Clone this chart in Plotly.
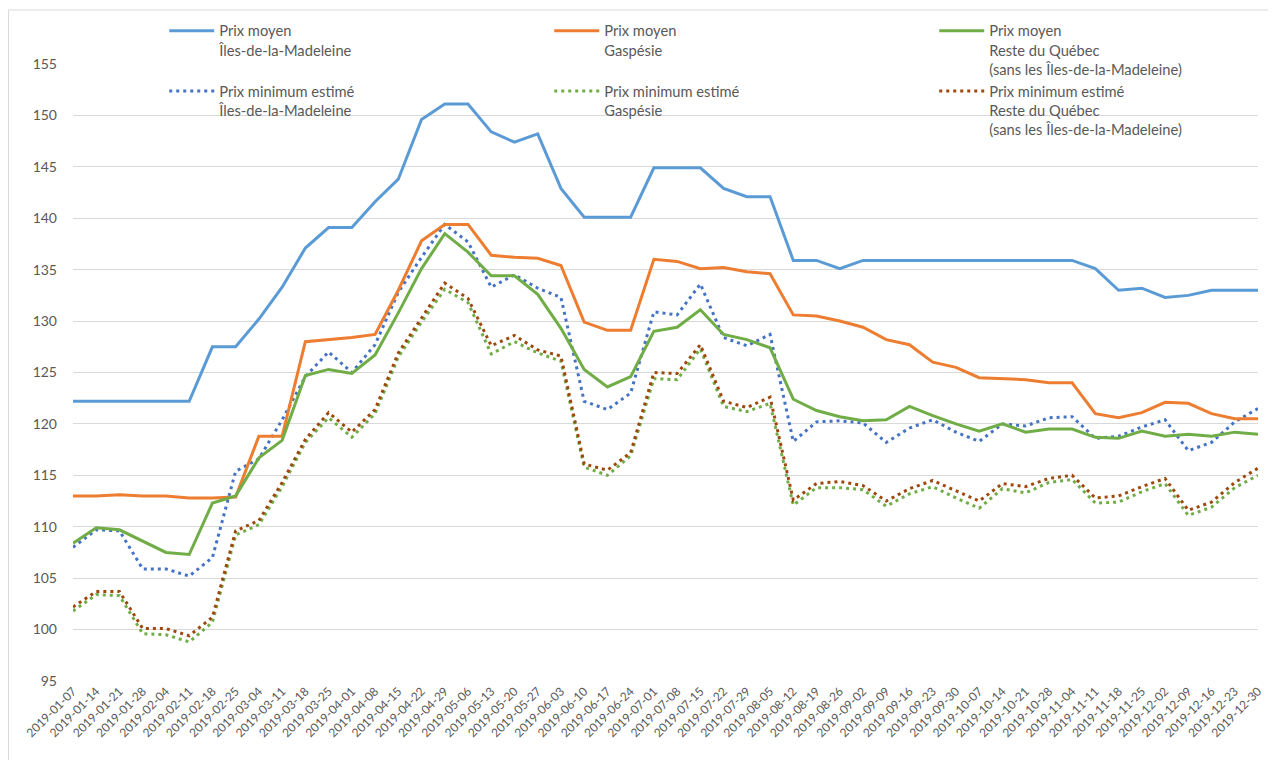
import plotly.graph_objects as go
import pandas as pd

dates = [d.strftime("%Y-%m-%d") for d in pd.date_range("2019-01-07", "2019-12-30", freq="7D")]

moy_madeleine = [122.2, 122.2, 122.2, 122.2, 122.2, 122.2, 127.5, 127.5, 130.2, 133.3,
                 137.1, 139.1, 139.1, 141.6, 143.8, 149.6, 151.1, 151.1, 148.4, 147.4,
                 148.2, 142.9, 140.1, 140.1, 140.1, 144.9, 144.9, 144.9, 142.9, 142.1,
                 142.1, 135.9, 135.9, 135.1, 135.9, 135.9, 135.9, 135.9, 135.9, 135.9,
                 135.9, 135.9, 135.9, 135.9, 135.1, 133.0, 133.2, 132.3, 132.5, 133.0,
                 133.0, 133.0]
moy_gaspesie = [113.0, 113.0, 113.1, 113.0, 113.0, 112.8, 112.8, 112.9, 118.8, 118.8,
                128.0, 128.2, 128.4, 128.7, 133.0, 137.8, 139.4, 139.4, 136.4, 136.2,
                136.1, 135.4, 129.9, 129.1, 129.1, 136.0, 135.8, 135.1, 135.2, 134.8,
                134.6, 130.6, 130.5, 130.0, 129.4, 128.2, 127.7, 126.0, 125.5, 124.5,
                124.4, 124.3, 124.0, 124.0, 121.0, 120.6, 121.1, 122.1, 122.0, 121.0,
                120.5, 120.5]
moy_reste = [108.4, 109.9, 109.7, 108.6, 107.5, 107.3, 112.3, 113.0, 116.7, 118.4,
             124.7, 125.3, 124.9, 126.7, 130.8, 135.1, 138.5, 136.7, 134.4, 134.4,
             132.6, 129.3, 125.3, 123.6, 124.6, 129.0, 129.4, 131.1, 128.7, 128.2,
             127.4, 122.4, 121.3, 120.7, 120.3, 120.4, 121.7, 120.8, 120.0, 119.3,
             120.0, 119.2, 119.5, 119.5, 118.7, 118.6, 119.3, 118.8, 119.0, 118.8,
             119.2, 119.0]
min_madeleine = [108.0, 109.7, 109.6, 105.9, 105.9, 105.2, 107.0, 115.4, 116.6, 120.4,
                 124.6, 127.0, 125.0, 127.7, 132.8, 136.2, 139.4, 137.7, 133.3, 134.5,
                 133.2, 132.3, 122.2, 121.4, 123.0, 130.9, 130.6, 133.6, 128.4, 127.6,
                 128.7, 118.3, 120.2, 120.3, 120.1, 118.2, 119.6, 120.4, 119.2, 118.3,
                 120.0, 119.8, 120.6, 120.7, 118.6, 118.8, 119.7, 120.4, 117.4, 118.2,
                 120.2, 121.5]
min_gaspesie = [101.8, 103.4, 103.3, 99.6, 99.5, 98.8, 100.7, 109.2, 110.2, 113.9,
                118.2, 120.6, 118.7, 121.0, 126.5, 129.9, 133.1, 131.8, 126.8, 128.0,
                126.9, 126.1, 115.8, 115.0, 116.9, 124.4, 124.3, 127.3, 121.7, 121.2,
                122.0, 112.1, 113.8, 113.8, 113.6, 112.0, 113.2, 113.9, 112.8, 111.8,
                113.7, 113.3, 114.3, 114.6, 112.3, 112.4, 113.4, 114.2, 111.1, 111.9,
                113.8, 115.0]
min_reste = [102.2, 103.7, 103.7, 100.1, 100.1, 99.4, 101.2, 109.6, 110.6, 114.3,
             118.5, 121.1, 119.2, 121.4, 126.9, 130.3, 133.7, 132.2, 127.6, 128.6,
             127.2, 126.6, 116.1, 115.5, 117.2, 125.0, 124.9, 127.7, 122.2, 121.6,
             122.6, 112.6, 114.2, 114.4, 114.0, 112.5, 113.7, 114.5, 113.5, 112.5,
             114.2, 113.9, 114.7, 115.0, 112.8, 113.0, 113.9, 114.7, 111.6, 112.4,
             114.3, 115.7]

names = [
    "Prix moyen<br>Îles-de-la-Madeleine",
    "Prix moyen<br>Gaspésie",
    "Prix moyen<br>Reste du Québec<br>(sans les Îles-de-la-Madeleine)",
    "Prix minimum estimé<br>Îles-de-la-Madeleine",
    "Prix minimum estimé<br>Gaspésie",
    "Prix minimum estimé<br>Reste du Québec<br>(sans les Îles-de-la-Madeleine)",
]
series = [moy_madeleine, moy_gaspesie, moy_reste, min_madeleine, min_gaspesie, min_reste]
colors = ["#5B9BD5", "#ED7D31", "#70AD47", "#4472C4", "#70AD47", "#9E480E"]
dashes = ["solid", "solid", "solid", "3px,4px", "3px,4px", "3px,4px"]

fig = go.Figure()
order = [4, 5, 3, 0, 1, 2]
for i in order:
    fig.add_trace(go.Scatter(
        x=dates, y=series[i], name=names[i], mode="lines",
        line=dict(color=colors[i], width=3, dash=dashes[i]),
        legendrank=i + 1,
    ))

font_fam = "Lato, Noto Sans, sans-serif"
# page body has an 8px default margin: figure is sized to fit the 1276x768 window
fig.update_layout(
    width=1260, height=752,
    paper_bgcolor="white", plot_bgcolor="white",
    margin=dict(l=65, r=10, t=55.5, b=78.5, autoexpand=False),
    font=dict(family=font_fam, size=13, color="#595959"),
    showlegend=True,
    legend=dict(
        orientation="h", x=0.077, y=1.080, xanchor="left", yanchor="top",
        entrywidth=325, entrywidthmode="pixels", itemwidth=45,
        valign="top", traceorder="normal",
        font=dict(family=font_fam, size=14.7, color="#595959"),
        bgcolor="rgba(0,0,0,0)", tracegroupgap=0,
    ),
    xaxis=dict(
        type="category", range=[0, len(dates) - 1], tickangle=-45,
        showgrid=False, showline=False, ticks="",
        tickfont=dict(family=font_fam, size=12, color="#595959"),
    ),
    yaxis=dict(
        range=[95, 155], dtick=5, tick0=95, showgrid=True, gridcolor="#D9D9D9",
        gridwidth=1, zeroline=False, showline=False, ticks="",
        ticklabelstandoff=15,
        tickfont=dict(family=font_fam, size=14, color="#595959"),
    ),
    shapes=[
        dict(type="line", xref="paper", yref="paper", x0=-0.0544, x1=1.05,
             y0=1.0875, y1=1.0875, line=dict(color="#D9D9D9", width=1)),
        dict(type="line", xref="paper", yref="paper", x0=-0.0544, x1=-0.0544,
             y0=1.0875, y1=-0.2, line=dict(color="#D9D9D9", width=1)),
    ],
)

fig.write_html("out.html")
